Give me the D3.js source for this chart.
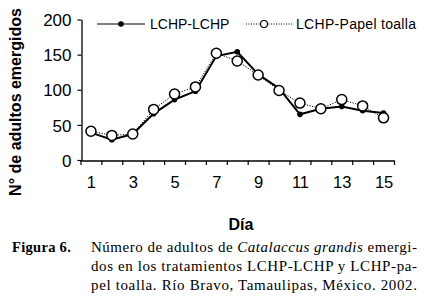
<!DOCTYPE html>
<html><head><meta charset="utf-8">
<script src="https://cdn.jsdelivr.net/npm/d3@7/dist/d3.min.js"></script>
<style>body{margin:0;background:#fff}svg{display:block}</style>
</head><body>
<svg id="c" width="426" height="303"></svg>
<script>
const days = [1,2,3,4,5,6,7,8,9,10,11,12,13,14,15];
const lchpLchp = [39,29,37,66,86,98,148,154,122,102,65,73,76,70,67];
const lchpPapel = [41,35,37,72,94,104,152,141,121,99,81,73,86,77,60];
const yTicks = [0,50,100,150,200];
const xTickLabels = [1,3,5,7,9,11,13,15];
const seriesNames = ["LCHP-LCHP","LCHP-Papel toalla"];
const yTitle = "N° de adultos emergidos";
const xTitle = "Día";

const svg = d3.select("#c");
const x = d3.scaleLinear().domain([0.5,15.5]).range([80.5,394]);
const y = d3.scaleLinear().domain([0,200]).range([160,19.5]);
const sans = "Liberation Sans, Arial, sans-serif";

// Y axis
const ya = svg.append("g").attr("transform","translate(81.5,0)")
  .call(d3.axisLeft(y).tickValues(yTicks).tickSize(4).tickPadding(6).tickSizeOuter(0));
ya.select(".domain").attr("stroke","#000").attr("stroke-width",1.3);
ya.selectAll(".tick line").attr("stroke","#000").attr("stroke-width",1.2);
ya.selectAll(".tick text").attr("font-family",sans).attr("font-size",17).attr("fill","#000")
  .attr("dy","0.36em");

// X axis ticks (boundaries)
const boundaries = d3.range(0.5,15.6,1);
const xa = svg.append("g").attr("transform","translate(0,160.5)")
  .call(d3.axisBottom(x).tickValues(boundaries).tickSize(4.5).tickFormat("").tickSizeOuter(0));
xa.select(".domain").attr("stroke","#000").attr("stroke-width",1.3);
xa.selectAll(".tick line").attr("stroke","#000").attr("stroke-width",1.2);
const xl = svg.append("g").attr("transform","translate(0,160.5)")
  .call(d3.axisBottom(x).tickValues(xTickLabels).tickSize(0).tickPadding(16));
xl.select(".domain").remove();
xl.selectAll(".tick text").attr("font-family",sans).attr("font-size",16.5).attr("fill","#000");

// Series 1: solid
const line = d3.line().x((d,i)=>x(days[i])).y(d=>y(d));
svg.append("path").datum(lchpLchp).attr("d",line).attr("fill","none")
  .attr("stroke","#000").attr("stroke-width",2);
svg.selectAll(".f").data(lchpLchp).enter().append("circle")
  .attr("cx",(d,i)=>x(days[i])).attr("cy",d=>y(d)).attr("r",2.8).attr("fill","#000");

// Series 2: dotted
svg.append("path").datum(lchpPapel).attr("d",line).attr("fill","none")
  .attr("stroke","#000").attr("stroke-width",1).attr("stroke-dasharray","1.2,1.5");
svg.selectAll(".o").data(lchpPapel).enter().append("circle")
  .attr("cx",(d,i)=>x(days[i])).attr("cy",d=>y(d)).attr("r",5).attr("fill","#fff")
  .attr("stroke","#000").attr("stroke-width",1.5);

// Legend
const lg = svg.append("g");
lg.append("line").attr("x1",97).attr("x2",145).attr("y1",24).attr("y2",24).attr("stroke","#555").attr("stroke-width",1.3);
lg.append("circle").attr("cx",121).attr("cy",24).attr("r",2.8).attr("fill","#000");
lg.append("text").attr("x",150).attr("y",29).attr("font-family",sans).attr("font-size",14).text(seriesNames[0]);
lg.append("line").attr("x1",246).attr("x2",292).attr("y1",24).attr("y2",24).attr("stroke","#000").attr("stroke-width",1).attr("stroke-dasharray","1,1.5");
lg.append("circle").attr("cx",264).attr("cy",24).attr("r",3.5).attr("fill","#fff").attr("stroke","#000").attr("stroke-width",1.2);
lg.append("text").attr("x",296).attr("y",29).attr("font-family",sans).attr("font-size",14).attr("letter-spacing",0.3).text(seriesNames[1]);

// Axis titles
svg.append("text").attr("transform","translate(21,102) rotate(-90)").attr("text-anchor","middle")
  .attr("font-family",sans).attr("font-weight","bold").attr("font-size",16).text(yTitle);
svg.append("text").attr("x",241).attr("y",230).attr("text-anchor","middle")
  .attr("font-family","Liberation Sans Narrow, Liberation Sans, sans-serif").attr("font-weight","bold").attr("font-size",16).text(xTitle);

// Caption (justified lines)
const serif = "Liberation Serif, Times New Roman, serif";
const cap = svg.append("g").attr("font-family",serif).attr("font-size",15).attr("fill","#000");
cap.append("text").attr("x",12).attr("y",252).attr("font-weight","bold").attr("font-size",14.5)
  .attr("letter-spacing",0.3).text("Figura 6.");
const W = 326;
const l1 = cap.append("text").attr("x",91).attr("y",252).attr("textLength",W).attr("lengthAdjust","spacing");
l1.append("tspan").text("Número de adultos de ");
l1.append("tspan").attr("font-style","italic").text("Catalaccus grandis");
l1.append("tspan").text(" emergi-");
cap.append("text").attr("x",91).attr("y",271).attr("textLength",W).attr("lengthAdjust","spacing")
  .text("dos en los tratamientos LCHP-LCHP y LCHP-pa-");
cap.append("text").attr("x",91).attr("y",290).attr("textLength",W).attr("lengthAdjust","spacing")
  .text("pel toalla. Río Bravo, Tamaulipas, México. 2002.");
</script>
</body></html>
